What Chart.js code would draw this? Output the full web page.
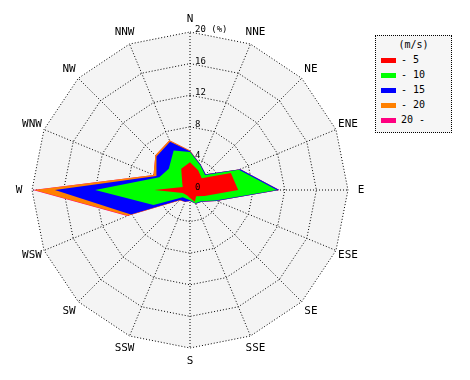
<!DOCTYPE html>
<html>
<head>
<meta charset="utf-8">
<script src="https://cdn.jsdelivr.net/npm/chart.js@4/dist/chart.umd.min.js"></script>
<style>
  html, body { margin: 0; padding: 0; background: #ffffff; }
  #wrap { position: relative; width: 470px; height: 380px; }
  #c { position: absolute; left: 0; top: 0; }
  #legend {
    position: absolute; left: 375px; top: 35px; width: 75px; height: 96px;
    border: 1px dotted #000; background: #f6f6f6;
    font-family: "DejaVu Sans Mono", monospace; font-size: 10px; color: #000;
  }
  #legend .title { position: absolute; left: 0; width: 75px; top: 3px; text-align: center; }
  #legend .row { position: absolute; left: 0; height: 12px; }
  #legend .sw { position: absolute; left: 5px; top: 4px; width: 15px; height: 5px; }
  #legend .tx { position: absolute; left: 25px; top: 0; white-space: pre; line-height: 12px; }
</style>
</head>
<body>
<div id="wrap">
  <canvas id="c" width="470" height="380"></canvas>
  <div id="legend"></div>
</div>
<script>
// 16 wind directions
const directions = ['N','NNE','NE','ENE','E','ESE','SE','SSE','S','SSW','SW','WSW','W','WNW','NW','NNW'];
// frequency (%) per speed class, per direction
const speed5   = [3.5, 2.7, 2.1, 5.6, 6.1, 2.0, 1.1, 1.6, 1.0, 0.8, 0.8, 1.0, 4.5, 1.0, 1.4, 2.9];
const speed10  = [1.3, 0.7, 0.6, 1.1, 4.9, 1.5, 0.9, 0.2, 0.3, 0.4, 0.5, 4.0, 7.5, 3.2, 2.4, 2.5];
const speed15  = [0.1, 0.1, 0.1, 0.2, 0.3, 0.1, 0.1, 0.1, 0.1, 0.4, 0.5, 3.1, 5.1, 0.4, 2.2, 1.2];
const speed20  = [0.1, 0.0, 0.0, 0.0, 0.0, 0.0, 0.0, 0.0, 0.0, 0.0, 0.1, 0.4, 2.6, 0.4, 0.2, 0.2];
const speed20p = [0.0, 0.0, 0.0, 0.0, 0.0, 0.0, 0.0, 0.0, 0.0, 0.0, 0.0, 0.1, 0.2, 0.0, 0.0, 0.0];
const classLabels = ['- 5', '- 10', '- 15', '- 20', '20 -'];
const classColors = ['#ff0000', '#00ff00', '#0000ff', '#ff8000', '#ff0080'];
const tickValues = [0, 4, 8, 12, 16, 20];
const unitLabel = '(%)';
const legendTitle = '(m/s)';

const series = [speed5, speed10, speed15, speed20, speed20p];
// cumulative stacking for wind rose
const cumulative = [];
series.forEach((s, k) => {
  cumulative.push(s.map((v, i) => v + (k > 0 ? cumulative[k - 1][i] : 0)));
});

const datasets = cumulative.map((d, k) => ({
  label: classLabels[k],
  data: d,
  backgroundColor: classColors[k],
  borderWidth: 0,
  borderColor: classColors[k],
  pointRadius: 0,
  pointHitRadius: 0,
  fill: 'origin',
  tension: 0
}));

const labelPlugin = {
  id: 'roseLabels',
  afterDraw(chart) {
    const s = chart.scales.r;
    const ctx = chart.ctx;
    ctx.save();
    ctx.fillStyle = '#000';
    // direction labels
    ctx.font = '11px "DejaVu Sans Mono"';
    ctx.textAlign = 'center';
    ctx.textBaseline = 'middle';
    directions.forEach((d, i) => {
      const p = s.getPointPosition(i, s.drawingArea + 13);
      ctx.fillText(d, p.x, p.y);
    });
    // radial tick labels along north axis
    ctx.font = '9px "DejaVu Sans Mono"';
    ctx.textAlign = 'left';
    ctx.textBaseline = 'alphabetic';
    tickValues.forEach((v, i) => {
      const y = s.yCenter - s.getDistanceFromCenterForValue(v);
      const t = (i === tickValues.length - 1) ? v + ' ' + unitLabel : String(v);
      ctx.fillText(t, s.xCenter + 5, y);
    });
    ctx.restore();
  }
};

new Chart(document.getElementById('c'), {
  type: 'radar',
  data: { labels: directions, datasets: datasets },
  options: {
    responsive: false,
    animation: false,
    devicePixelRatio: 1,
    layout: { padding: { left: 32, top: 32, right: 122, bottom: 32 } },
    plugins: { legend: { display: false }, tooltip: { enabled: false } },
    elements: { line: { borderWidth: 0, tension: 0 } },
    scales: {
      r: {
        min: 0,
        max: 20,
        backgroundColor: '#f4f4f4',
        ticks: { stepSize: 4, display: false },
        pointLabels: { display: false },
        grid: { circular: false, color: '#000', lineWidth: 1, borderDash: [1, 2] },
        border: { dash: [1, 2] },
        angleLines: { display: true, color: '#000', lineWidth: 1, borderDash: [1, 2] }
      }
    }
  },
  plugins: [labelPlugin]
});

// legend
const lg = document.getElementById('legend');
const title = document.createElement('div');
title.className = 'title';
title.textContent = legendTitle;
lg.appendChild(title);
classLabels.forEach((l, k) => {
  const row = document.createElement('div');
  row.className = 'row';
  row.style.top = (18 + k * 15) + 'px';
  const sw = document.createElement('div');
  sw.className = 'sw';
  sw.style.background = classColors[k];
  const tx = document.createElement('div');
  tx.className = 'tx';
  tx.textContent = l;
  row.appendChild(sw);
  row.appendChild(tx);
  lg.appendChild(row);
});
</script>
</body>
</html>
